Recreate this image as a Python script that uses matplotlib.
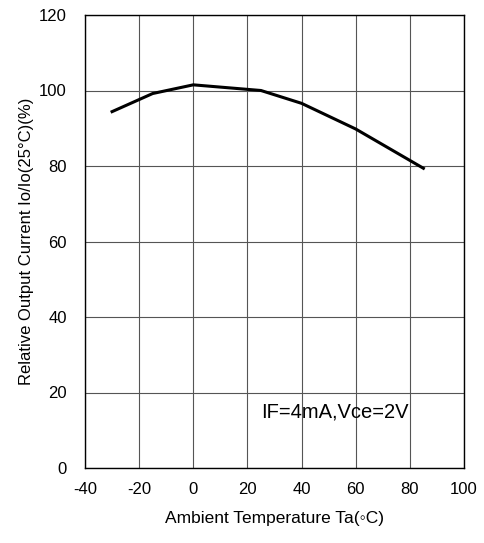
import matplotlib
matplotlib.use('Agg')
import matplotlib.pyplot as plt

plt.rcParams['font.family'] = ['Liberation Sans', 'DejaVu Sans']
plt.rcParams['axes.unicode_minus'] = False

# relative output current vs ambient temperature
temp = [-30, -15, 0, 25, 40, 60, 85]
rel_current = [94.4, 99.2, 101.5, 100.0, 96.6, 89.8, 79.4]

xticks = [-40, -20, 0, 20, 40, 60, 80, 100]
yticks = [0, 20, 40, 60, 80, 100, 120]

fig = plt.figure(figsize=(4.84, 5.43), dpi=100)
ax = fig.add_axes([85/484, 75/543, 379/484, 453/543])

ax.plot(temp, rel_current, color='black', linewidth=2.2, solid_joinstyle='miter')

ax.set_xlim(-40, 100)
ax.set_ylim(0, 120)
ax.set_xticks(xticks)
ax.set_yticks(yticks)
ax.grid(True, color='#555555', linewidth=0.8)
ax.tick_params(length=0, labelsize=12, colors='black')
ax.tick_params(axis='y', pad=13)
ax.tick_params(axis='x', pad=10)
for s in ax.spines.values():
    s.set_linewidth(1.0)
    s.set_color('black')

ax.set_xlabel('Ambient Temperature Ta(\u25e6C)', fontsize=12.5, labelpad=10)
ax.set_ylabel('Relative Output Current Io/Io(25°C)(%)', fontsize=12, labelpad=4)

ax.text(25, 14.8, 'IF=4mA,Vce=2V', fontsize=14.5, va='center', ha='left')

fig.savefig('out.png', dpi=100)
